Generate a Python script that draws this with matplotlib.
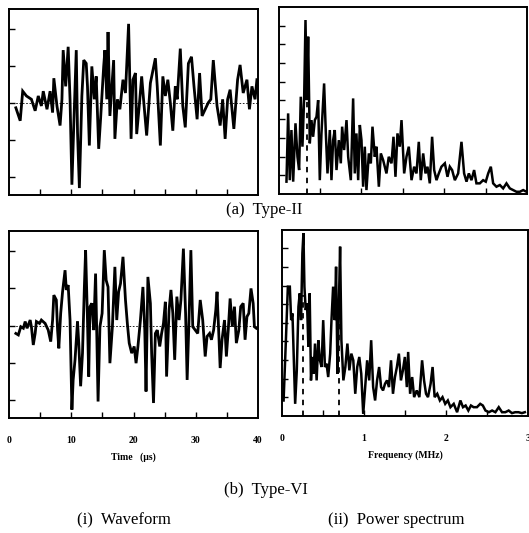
import matplotlib.pyplot as plt
import numpy as np

# waveform Type-II
t_a = [1.1, 1.8, 2.2, 2.8, 3.6, 4.2, 4.7, 5.2, 5.5, 6.1, 6.6, 7.0, 7.2, 7.7, 8.2, 8.5, 8.7, 9.1, 9.5, 9.8,
       10.1, 10.4, 10.8, 11.0, 11.3, 11.7, 12.0, 12.4, 12.6, 12.9, 13.3, 13.7, 14.0, 14.4, 14.7, 15.2, 15.4,
       15.7, 15.9, 16.2, 16.8, 17.0, 17.4, 17.8, 18.3, 18.7, 19.2, 19.6, 19.9, 20.3, 20.5, 21.0, 21.3, 21.6,
       22.1, 22.7, 23.5, 23.8, 24.3, 24.7, 25.1, 25.5, 25.9, 26.3, 26.7, 27.0, 27.5, 27.9, 28.3, 28.8, 29.3,
       29.7, 30.2, 30.6, 31.0, 31.5, 32.0, 32.4, 32.8, 33.4, 33.9, 34.3, 34.7, 35.1, 35.5, 36.1, 36.7, 37.1,
       37.6, 38.2, 38.6, 39.0, 39.5, 39.8]
w_a = [-0.12, -0.47, 0.33, 0.2, 0.11, -0.2, 0.2, -0.07, 0.33, -0.16, 0.33, -0.25, 0.68, -0.07, -0.6, 0.11,
       1.44, 0.46, 1.53, 0.11, -2.2, -0.6, 1.44, -0.78, -2.29, 0.2, 1.17, 1.08, 0.46, -1.14, 1.0, 0.11, 0.73,
       -1.23, -0.43, 1.0, 1.44, 0.11, 1.93, -0.34, 1.17, -0.96, 0.11, -0.16, 0.64, 0.28, 2.15, -0.96, 0.64,
       0.82, -0.83, 0.11, 0.73, 0.11, -0.87, 0.55, 1.22, 0.46, -1.14, 0.73, 0.2, 0.64, 0.02, -0.74, 0.46,
       0.11, 1.48, -0.07, -0.65, 1.08, 1.26, 0.46, -0.43, 0.82, -0.34, -0.16, 0.02, 0.11, 1.17, -0.07, -0.6,
       0.11, -0.96, 0.11, 0.37, -0.69, 0.64, 1.04, 0.28, 0.64, -0.16, 0.46, 0.11, 0.64]

# waveform Type-VI
t_b = [1.1, 1.5, 1.9, 2.3, 2.6, 2.9, 3.4, 3.6, 3.9, 4.2, 4.4, 4.9, 5.2, 5.8, 6.3, 6.7, 7.0, 7.2, 7.6, 7.8,
       8.0, 8.3, 8.6, 9.0, 9.2, 9.5, 9.8, 10.1, 10.3, 10.6, 11.0, 11.2, 11.5, 11.8, 12.1, 12.3, 12.6, 12.8,
       13.0, 13.3, 13.6, 13.9, 14.1, 14.3, 14.6, 14.95, 15.3, 15.6, 15.9, 16.2, 16.6, 17.0, 17.3, 17.6,
       17.9, 18.3, 18.7, 19.0, 19.3, 19.7, 20.1, 20.4, 20.7, 21.1, 21.5, 21.8, 22.0, 22.3, 22.7, 22.9,
       23.2, 23.5, 23.8, 24.2, 24.5, 24.8, 25.1, 25.3, 25.7, 26.0, 26.3, 26.6, 26.95, 27.3, 27.6, 28.0,
       28.35, 28.6, 28.9, 29.2, 29.5, 29.9, 30.3, 30.7, 31.1, 31.5, 31.8, 32.2, 32.5, 32.85, 33.2, 33.4,
       33.7, 33.9, 34.2, 34.6, 34.9, 35.2, 35.5, 35.85, 36.2, 36.5, 36.9, 37.2, 37.6, 37.9, 38.2, 38.5,
       38.85, 39.2, 39.4, 39.7]
w_b = [-0.21, -0.25, -0.03, -0.07, 0.11, -0.07, 0.15, -0.03, -0.52, -0.21, 0.11, 0.06, 0.15, 0.06, -0.12,
       -0.43, 0.15, 0.82, 0.69, -0.12, -0.61, 0.33, 0.91, 1.49, 0.96, 1.09, 0.15, -2.26, -1.46, -0.92, 0.11,
       -0.47, -1.63, -0.74, 1.04, 2.03, 0.15, -1.37, 0.51, 0.6, -0.12, 1.4, -0.29, -2.04, -0.03, 0.33, 2.03,
       1.22, 1.04, -1.01, -0.03, 1.58, 0.15, 0.91, 1.13, 1.85, 0.69, 0.06, -0.47, -0.74, -0.56, -1.01, -0.56,
       0.15, 1.04, -0.12, -1.77, 1.31, 0.6, -0.74, -2.08, -0.21, -0.12, -0.56, -0.21, 0.06, 0.64, -1.37, 0.42,
       0.96, 0.33, -0.92, 0.78, 0.15, 0.69, 2.07, 0.33, -1.46, 0.15, 2.03, -0.03, -0.12, -0.21, 0.69, 0.15,
       -0.83, -0.29, -0.21, -0.38, -0.12, 0.42, 0.91, -0.29, -1.14, -0.38, 0.15, -0.83, -0.12, 0.73, -0.03,
       0.51, -0.47, -0.12, 0.51, 0.6, -0.38, 0.24, 0.33, 1.0, 0.6, -0.03, -0.07]

# power spectrum Type-II
f_a = [0.093, 0.113, 0.133, 0.153, 0.174, 0.202, 0.226, 0.246, 0.266, 0.286, 0.307, 0.323, 0.339, 0.355,
       0.375, 0.395, 0.415, 0.436, 0.456, 0.476, 0.496, 0.516, 0.548, 0.569, 0.589, 0.617, 0.637, 0.657,
       0.677, 0.698, 0.726, 0.75, 0.766, 0.79, 0.819, 0.839, 0.871, 0.899, 0.919, 0.939, 0.96, 0.98, 1.0,
       1.02, 1.04, 1.06, 1.089, 1.113, 1.133, 1.161, 1.181, 1.21, 1.234, 1.262, 1.302, 1.33, 1.363, 1.387,
       1.411, 1.435, 1.463, 1.484, 1.516, 1.544, 1.572, 1.605, 1.637, 1.665, 1.693, 1.717, 1.746, 1.774,
       1.798, 1.826, 1.854, 1.879, 1.907, 1.935, 1.967, 2.008, 2.04, 2.068, 2.096, 2.129, 2.169, 2.209,
       2.241, 2.27, 2.298, 2.33, 2.362, 2.39, 2.431, 2.471, 2.503, 2.532, 2.564, 2.592, 2.632, 2.673, 2.713,
       2.753, 2.794, 2.834, 2.874, 2.915, 2.955, 2.995]
p_a = [0.66, 4.31, 0.74, 3.42, 0.66, 3.78, 1.99, 1.28, 5.2, 2.53, 5.2, 9.3, 5.02, 8.41, 2.71, 3.95, 3.06,
       3.95, 4.13, 5.02, 0.74, 3.24, 5.91, 3.24, 1.1, 3.42, 0.74, 2.88, 3.42, 1.28, 2.88, 1.64, 3.6, 2.35,
       3.95, 1.99, 0.74, 5.11, 1.1, 3.24, 0.74, 3.69, 2.88, 0.39, 2.53, 0.21, 2.17, 1.64, 3.6, 1.99, 2.53,
       0.39, 2.17, 1.81, 1.1, 1.99, 1.64, 3.06, 0.92, 3.24, 2.53, 3.95, 1.1, 1.99, 2.53, 0.74, 1.46, 1.1,
       2.79, 0.74, 2.17, 1.1, 1.46, 0.57, 3.06, 1.28, 0.74, 1.1, 1.46, 1.64, 0.92, 1.46, 1.28, 0.74, 1.1,
       2.79, 1.1, 0.66, 1.1, 0.74, 1.28, 0.57, 0.57, 0.74, 0.66, 1.1, 1.46, 0.57, 0.39, 0.48, 0.3, 0.57,
       0.3, 0.21, 0.12, 0.12, 0.21, 0.12]

# power spectrum Type-VI
f_b = [0.02, 0.048, 0.072, 0.096, 0.112, 0.128, 0.145, 0.161, 0.181, 0.201, 0.217, 0.233, 0.249, 0.262,
       0.274, 0.29, 0.306, 0.322, 0.338, 0.354, 0.37, 0.386, 0.403, 0.423, 0.443, 0.463, 0.483, 0.503,
       0.524, 0.544, 0.564, 0.588, 0.604, 0.624, 0.644, 0.66, 0.677, 0.693, 0.709, 0.725, 0.749, 0.773,
       0.798, 0.822, 0.846, 0.87, 0.894, 0.918, 0.943, 0.967, 0.991, 1.015, 1.039, 1.064, 1.088, 1.112,
       1.136, 1.16, 1.185, 1.209, 1.233, 1.257, 1.281, 1.305, 1.33, 1.354, 1.378, 1.402, 1.426, 1.451,
       1.475, 1.499, 1.523, 1.539, 1.563, 1.588, 1.612, 1.644, 1.676, 1.709, 1.733, 1.757, 1.781, 1.813,
       1.837, 1.862, 1.894, 1.926, 1.958, 1.991, 2.023, 2.055, 2.095, 2.136, 2.176, 2.208, 2.24, 2.273,
       2.305, 2.337, 2.378, 2.418, 2.45, 2.482, 2.523, 2.563, 2.603, 2.644, 2.684, 2.724, 2.765, 2.805,
       2.845, 2.885, 2.926, 2.962]
p_b = [0.82, 4.06, 6.94, 6.94, 5.14, 5.5, 2.98, 0.64, 2.44, 5.86, 6.58, 5.14, 8.73, 9.81, 6.94, 5.68, 6.04,
       3.7, 6.58, 1.9, 3.16, 2.26, 3.88, 1.9, 4.06, 2.98, 2.62, 5.14, 2.62, 2.8, 2.08, 3.34, 5.14, 6.94,
       5.14, 8.01, 2.26, 5.68, 9.09, 4.06, 1.9, 2.62, 3.88, 2.44, 3.34, 2.98, 1.18, 2.62, 3.16, 2.26, 0.1,
       1.54, 2.98, 1.9, 4.06, 1.54, 0.82, 1.9, 2.62, 1.54, 1.36, 1.72, 1.9, 1.54, 2.98, 1.18, 2.08, 2.62,
       3.34, 1.9, 2.44, 3.16, 1.54, 3.43, 1.18, 2.08, 1.0, 1.36, 1.0, 2.98, 1.9, 1.18, 1.0, 1.72, 2.62, 1.0,
       1.18, 0.82, 1.0, 0.64, 0.82, 0.46, 0.64, 0.19, 0.82, 0.46, 0.55, 0.28, 0.55, 0.46, 0.46, 0.64, 0.55,
       0.28, 0.19, 0.28, 0.19, 0.46, 0.19, 0.19, 0.28, 0.14, 0.19, 0.19, 0.14, 0.19]

# dominant frequencies (dashed markers) and their heights
peaks_a = [0.34]
peak_h_a = [7.2]
peaks_b = [0.26, 0.69]
peak_h_b = [6.5, 6.0]

plt.rcParams['font.family'] = 'Liberation Serif'

fig = plt.figure(figsize=(5.29, 5.33), dpi=100)
ax_wa = fig.add_axes([0.017, 0.634, 0.471, 0.349])
ax_pa = fig.add_axes([0.527, 0.636, 0.469, 0.351])
ax_wb = fig.add_axes([0.017, 0.216, 0.471, 0.351])
ax_pb = fig.add_axes([0.533, 0.220, 0.465, 0.349])

def style(ax):
    for s in ax.spines.values():
        s.set_linewidth(1.4)
    ax.tick_params(direction='in', length=4, width=1, top=False, right=False)

for ax, t, w in [(ax_wa, t_a, w_a), (ax_wb, t_b, w_b)]:
    ax.plot(t, w, color='k', lw=2.0, solid_joinstyle='miter')
    ax.axhline(0, color='k', lw=0.6, ls=(0, (2, 2)))
    ax.set_xlim(0, 40)
    ax.set_ylim(-2.48, 2.55)
    ax.set_xticks(np.arange(5, 40, 5))
    ax.set_yticks([-2, -1, 0, 1, 2])
    style(ax)
    ax.set_yticklabels([])
    ax.set_xticklabels([])

for ax, f, p, pk, ph in [(ax_pa, f_a, p_a, peaks_a, peak_h_a), (ax_pb, f_b, p_b, peaks_b, peak_h_b)]:
    ax.plot(f, p, color='k', lw=1.8, solid_joinstyle='miter')
    ax.vlines(pk, 0, ph, colors='k', lw=1.3, linestyles=(0, (3, 3)))
    ax.set_xlim(0, 3)
    ax.set_ylim(0, 10)
    ax.set_xticks(np.arange(0.5, 3, 0.5))
    ax.set_yticks(np.arange(1, 10))
    style(ax)
    ax.set_yticklabels([])
    ax.set_xticklabels([])

# bottom tick labels
for v in [0, 10, 20, 30, 40]:
    ax_wb.text(v, -0.12, str(v), transform=ax_wb.get_xaxis_transform(), ha='center', va='center',
               fontsize=7, fontweight='bold')
ax_wb.text(20, -0.21, 'Time   (\u03bcs)', transform=ax_wb.get_xaxis_transform(), ha='center',
           va='center', fontsize=7, fontweight='bold')
for v in [0, 1, 2, 3]:
    ax_pb.text(v, -0.12, str(v), transform=ax_pb.get_xaxis_transform(), ha='center', va='center',
               fontsize=7, fontweight='bold', clip_on=False)
ax_pb.text(1.5, -0.21, 'Frequency (MHz)', transform=ax_pb.get_xaxis_transform(), ha='center',
           va='center', fontsize=7, fontweight='bold')

fig.text(0.5, 1 - 210 / 533, '(a)  Type-II', ha='center', va='center', fontsize=12)
fig.text(0.503, 1 - 490 / 533, '(b)  Type-VI', ha='center', va='center', fontsize=12)
fig.text(0.235, 1 - 520 / 533, '(i)  Waveform', ha='center', va='center', fontsize=12)
fig.text(0.75, 1 - 520 / 533, '(ii)  Power spectrum', ha='center', va='center', fontsize=12)

fig.savefig('out.png', dpi=100)
